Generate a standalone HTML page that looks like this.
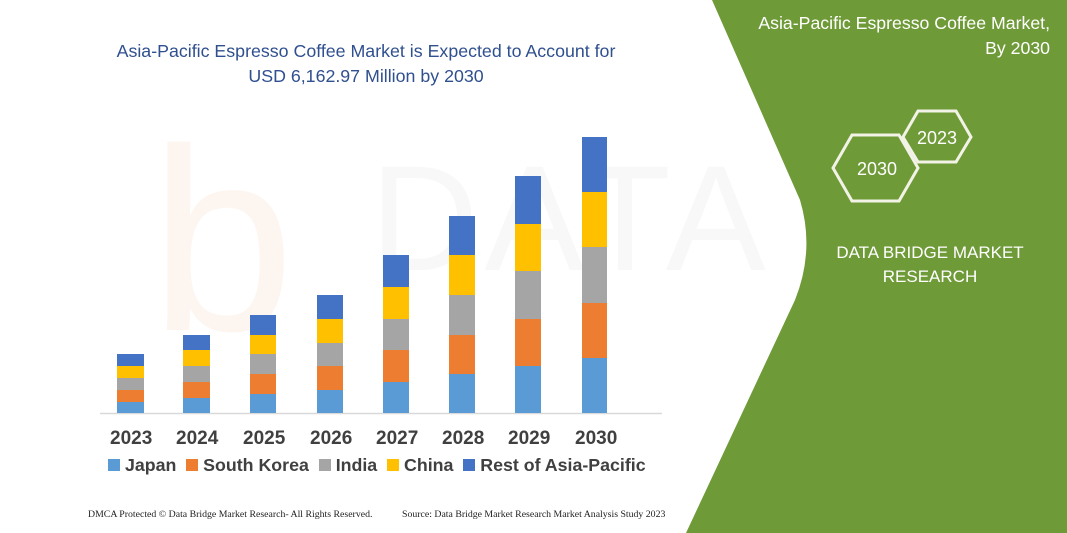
<!DOCTYPE html>
<html><head><style>
body{margin:0;width:1067px;height:533px;overflow:hidden;background:#fff;font-family:"Liberation Sans",sans-serif;position:relative}
.t{position:absolute;white-space:nowrap}
</style></head><body>
<svg width="1067" height="533" style="position:absolute;left:0;top:0">
<text x="150" y="330" font-size="260" fill="#fdf5f0" font-family="Liberation Sans">b</text>
<text x="370" y="270" font-size="150" fill="#f8f8f8" font-family="Liberation Sans" letter-spacing="6">DATA BRIDGE</text>
<path d="M712,0 L1067,0 L1067,533 L686,533 L795,300 Q815,250 800,200 Z" fill="#6f9a38"/>
<line x1="100" y1="413.5" x2="662" y2="413.5" stroke="#d9d9d9" stroke-width="1.5"/>
<g id="bars"></g>
<polygon points="833,168 852,135 899,135 918,168 899,201 852,201" fill="none" stroke="#f2f2e6" stroke-width="3"/>
<polygon points="903,137 918,111 956,111 971,137 956,162 918,162" fill="none" stroke="#f2f2e6" stroke-width="3"/>
<text x="877" y="175" font-size="18" fill="#fff" text-anchor="middle">2030</text>
<text x="937" y="144" font-size="18" fill="#fff" text-anchor="middle">2023</text>
</svg>
<div class="t" style="left:0;width:732px;top:39px;text-align:center;color:#2f4f8f;font-size:17.8px;line-height:25px">Asia-Pacific Espresso Coffee Market is Expected to Account for<br>USD 6,162.97 Million by 2030</div>
<div class="t" style="right:17px;top:11px;text-align:right;color:#fff;font-size:17.7px;line-height:25px">Asia-Pacific Espresso Coffee Market,<br>By 2030</div>
<div class="t" style="left:800px;width:260px;top:241px;text-align:center;color:#fff;font-size:17px;line-height:24px">DATA BRIDGE MARKET<br>RESEARCH</div>
<div class="t" style="left:0;top:428px;font-weight:bold;font-size:19px;color:#404040">
<span style="position:absolute;left:110px">2023</span><span style="position:absolute;left:176px">2024</span><span style="position:absolute;left:243px">2025</span><span style="position:absolute;left:310px">2026</span><span style="position:absolute;left:376px">2027</span><span style="position:absolute;left:442px">2028</span><span style="position:absolute;left:508px">2029</span><span style="position:absolute;left:575px">2030</span></div>
<div class="t" style="left:108px;top:455px;font-weight:bold;font-size:17.8px;color:#404040">
<span style="display:inline-block;width:12px;height:12px;background:#5b9bd5"></span> Japan &nbsp;<span style="display:inline-block;width:12px;height:12px;background:#ed7d31"></span> South Korea &nbsp;<span style="display:inline-block;width:12px;height:12px;background:#a5a5a5"></span> India &nbsp;<span style="display:inline-block;width:12px;height:12px;background:#ffc000"></span> China &nbsp;<span style="display:inline-block;width:12px;height:12px;background:#4472c4"></span> Rest of Asia-Pacific</div>
<div class="t" style="left:88px;top:509px;font-family:'Liberation Serif',serif;font-size:9.8px;color:#222">DMCA Protected © Data Bridge Market Research- All Rights Reserved.</div>
<div class="t" style="left:402px;top:509px;font-family:'Liberation Serif',serif;font-size:9.8px;color:#222">Source: Data Bridge Market Research Market Analysis Study 2023</div>
<script>
var d=[[117,144,[354,366,378,390,402]],[183,210,[335,350,366,382,398]],[250,276,[315,335,354,374,394]],[317,343,[295,319,343,366,390]],[383,409,[255,287,319,350,382]],[449,475,[216,255,295,335,374]],[515,541,[176,224,271,319,366]],[582,607,[137,192,247,303,358]]];
var c=["#4472c4","#ffc000","#a5a5a5","#ed7d31","#5b9bd5"],s="";
d.forEach(function(b){var t=b[2];for(var i=0;i<5;i++){var y2=i<4?t[i+1]:413;s+='<rect x="'+b[0]+'" y="'+t[i]+'" width="'+(b[1]-b[0])+'" height="'+(y2-t[i])+'" fill="'+c[i]+'"/>';}});
document.getElementById("bars").innerHTML=s;
</script>
</body></html>
